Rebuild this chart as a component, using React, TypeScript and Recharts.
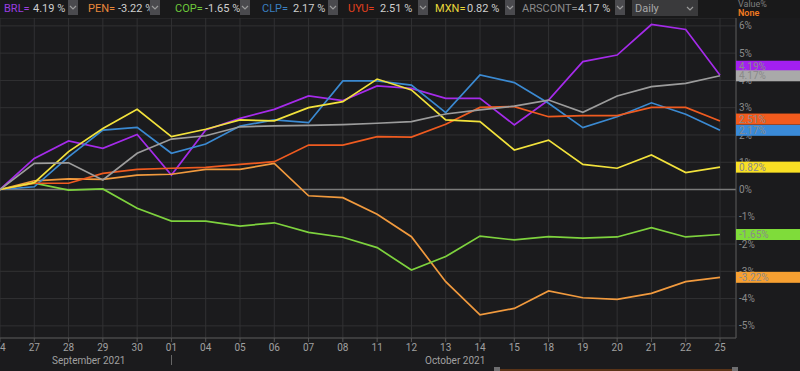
import React from "react";
import { LineChart, Line, XAxis, YAxis, CartesianGrid, ReferenceLine } from "recharts";

const dates = ["24", "27", "28", "29", "30", "01", "04", "05", "06", "07", "08", "11", "12", "13", "14", "15", "18", "19", "20", "21", "22", "25"];
const brl = [0, 1.14, 1.78, 1.51, 2.02, 0.53, 2.18, 2.61, 2.94, 3.43, 3.26, 3.8, 3.71, 3.34, 3.34, 2.37, 3.28, 4.69, 4.93, 6.05, 5.87, 4.19];
const pen = [0, 0.32, 0.39, 0.37, 0.53, 0.56, 0.74, 0.74, 0.96, -0.23, -0.3, -0.91, -1.73, -3.38, -4.6, -4.36, -3.72, -3.97, -4.03, -3.81, -3.38, -3.22];
const cop = [0, 0.23, -0.02, 0.02, -0.69, -1.16, -1.16, -1.34, -1.22, -1.57, -1.75, -2.13, -2.95, -2.46, -1.71, -1.85, -1.73, -1.78, -1.74, -1.4, -1.74, -1.65];
const clp = [0, 0.1, 1.2, 2.18, 2.28, 1.33, 1.67, 2.33, 2.55, 2.45, 3.98, 3.98, 3.83, 2.82, 4.2, 3.92, 3.16, 2.27, 2.67, 3.18, 2.76, 2.17];
const uyu = [0, 0.23, 0.23, 0.59, 0.74, 0.78, 0.81, 0.92, 1.02, 1.63, 1.63, 1.94, 1.92, 2.39, 3.01, 3.04, 2.67, 2.71, 2.71, 3.01, 3.01, 2.51];
const mxn = [0, 0.25, 1.39, 2.24, 2.94, 1.94, 2.21, 2.55, 2.52, 3.0, 3.22, 4.05, 3.65, 2.55, 2.49, 1.45, 1.81, 0.92, 0.78, 1.27, 0.62, 0.82];
const arscont = [0, 0.96, 0.98, 0.35, 1.33, 1.85, 1.97, 2.3, 2.33, 2.35, 2.38, 2.43, 2.49, 2.77, 2.92, 3.06, 3.28, 2.83, 3.43, 3.77, 3.89, 4.17];

const seriesKeys = ["BRL", "PEN", "COP", "CLP", "UYU", "MXN", "ARSCONT"];
const lastValues = ["4.19", "-3.22", "-1.65", "2.17", "2.51", "0.82", "4.17"];
const yTicks = [-5, -4, -3, -2, -1, 0, 1, 2, 3, 4, 5, 6];
const monthLabels = ["September 2021", "October 2021"];
const intervalLabel = "Daily";
const valueHeader = "Value%";
const noneLabel = "None";

const seriesValues = [brl, pen, cop, clp, uyu, mxn, arscont];
const data = dates.map((d, i) => {
  const row: any = { date: d };
  seriesKeys.forEach((k, j) => (row[k] = seriesValues[j][i]));
  return row;
});

// styles
const lineColors = ["#a52bea", "#f19a3e", "#7ed23e", "#3b8ad2", "#ef5b20", "#f2e23c", "#9c9c9c"];
const boxColors = ["#a31ff0", "#f7a031", "#7fdc3a", "#3a8ad8", "#f25b1d", "#f9e024", "#a9a9a9"];
const nameColors = ["#9a3de0", "#e8873a", "#6dc83a", "#3a7fc0", "#e0401e", "#e8d83a", "#8a8a8a"];
const headerPos = [
  [4, 33, 68],
  [88, 118, 150],
  [175, 205, 240],
  [262, 293, 328],
  [348, 380, 418],
  [435, 467, 505],
  [522, 578, 615],
];
const labelShift = [-9, 0, 0, 0, -2, 0, 0];
const BG = "#1b1b1d";
const FONT = "Roboto, 'Open Sans', sans-serif";
const Y_DOMAIN: [number, number] = [-5.445, 6.289];

const Chevron = ({ x, y }: { x: number; y: number }) => (
  <svg width={8} height={6} style={{ position: "absolute", left: x, top: y }}>
    <polyline points="1,1 4,4 7,1" fill="none" stroke="#9a9a9a" strokeWidth={1.2} />
  </svg>
);

const makeEndLabel = (idx: number) => (props: any) => {
  const { x, y, index } = props;
  if (index !== dates.length - 1) return null;
  const yy = y + labelShift[idx];
  return (
    <g>
      <rect x={x + 16} y={yy - 5.5} width={70} height={11} fill={boxColors[idx]} />
      <text x={x + 19} y={yy} dy="0.36em" fontSize={10} fill="#8a8a8a" fontFamily={FONT}>
        {lastValues[idx]}%
      </text>
    </g>
  );
};

export default function App() {
  return (
    <div style={{ position: "absolute", left: 0, top: 0, width: 800, height: 371, background: BG, overflow: "hidden", fontFamily: FONT }}>
      {/* header */}
      <div style={{ position: "absolute", left: 0, top: 0, width: 800, height: 18, background: "#19191a" }}>
        {seriesKeys.map((k, i) => (
          <React.Fragment key={k}>
            <div style={{ position: "absolute", left: headerPos[i][0], top: 2, fontSize: 11, color: nameColors[i], lineHeight: "13px" }}>{k}=</div>
            <div style={{ position: "absolute", left: headerPos[i][1], top: 2, fontSize: 11, color: "#cfcfcf", lineHeight: "13px" }}>{lastValues[i]} %</div>
            <div style={{ position: "absolute", left: headerPos[i][2], top: 0, width: 10, height: 15, background: "#4a4a4e" }} />
            <Chevron x={headerPos[i][2] + 1} y={5} />
          </React.Fragment>
        ))}
        <div style={{ position: "absolute", left: 632, top: 0, width: 66, height: 16, background: "#3a3a3c" }} />
        <div style={{ position: "absolute", left: 635, top: 2, fontSize: 11, color: "#a8a8a8", lineHeight: "13px" }}>{intervalLabel}</div>
        <Chevron x={686} y={6} />
        <div style={{ position: "absolute", left: 738, top: -1, fontSize: 9, color: "#7e7e7e", lineHeight: "10px" }}>{valueHeader}</div>
        <div style={{ position: "absolute", left: 738, top: 8, fontSize: 9, color: "#f07a20", lineHeight: "10px", fontWeight: 600 }}>{noneLabel}</div>
      </div>

      <div style={{ position: "absolute", left: 0, top: 18 }}>
        <LineChart width={800} height={353} data={data} margin={{ top: 0, right: 0, left: 0, bottom: 0 }}>
          <CartesianGrid stroke="#313133" strokeWidth={1} />
          <XAxis
            dataKey="date"
            interval={0}
            height={33}
            padding={{ left: 0, right: 16 }}
            axisLine={{ stroke: "#555" }}
            tickLine={{ stroke: "#555" }}
            tickSize={4}
            tickMargin={2}
            tick={{ fill: "#a0a0a0", fontSize: 10, fontFamily: FONT }}
          />
          <YAxis
            orientation="right"
            width={64}
            domain={Y_DOMAIN}
            allowDataOverflow
            ticks={yTicks}
            tickFormatter={(v: number) => `${v}%`}
            axisLine={{ stroke: "#555" }}
            tickLine={false}
            tickSize={0}
            tickMargin={3}
            tick={{ fill: "#8a8a8a", fontSize: 10, fontFamily: FONT }}
          />
          <ReferenceLine y={0} stroke="#7a7a7a" strokeWidth={1.5} />
          {seriesKeys.map((k, i) => (
            <Line
              key={k}
              type="linear"
              dataKey={k}
              stroke={lineColors[i]}
              strokeWidth={1.7}
              dot={false}
              activeDot={false}
              isAnimationActive={false}
            />
          ))}
        </LineChart>
      </div>

      {/* overlay chart: end-value tags drawn above the axis */}
      <div style={{ position: "absolute", left: 0, top: 18 }}>
        <LineChart width={800} height={353} data={data} margin={{ top: 0, right: 0, left: 0, bottom: 0 }}>
          <XAxis dataKey="date" interval={0} height={33} padding={{ left: 0, right: 16 }} axisLine={false} tickLine={false} tick={false} />
          <YAxis orientation="right" width={64} domain={Y_DOMAIN} allowDataOverflow ticks={yTicks} axisLine={false} tickLine={false} tick={false} />
          {seriesKeys.map((k, i) => (
            <Line
              key={k}
              type="linear"
              dataKey={k}
              stroke="none"
              dot={false}
              activeDot={false}
              isAnimationActive={false}
              label={makeEndLabel(i)}
            />
          ))}
        </LineChart>
      </div>

      {/* month labels */}
      <div style={{ position: "absolute", left: 52, top: 355, fontSize: 10, color: "#a0a0a0" }}>{monthLabels[0]}</div>
      <div style={{ position: "absolute", left: 425, top: 355, fontSize: 10, color: "#a0a0a0" }}>{monthLabels[1]}</div>
      <div style={{ position: "absolute", left: 171, top: 355, width: 1, height: 10, background: "#666" }} />

      {/* scroll bar */}
      <div style={{ position: "absolute", left: 500, top: 369, width: 234, height: 2, background: "#5a3418" }} />
      <div style={{ position: "absolute", left: 494, top: 367, width: 6, height: 6, background: "#6e6e70" }} />
      <div style={{ position: "absolute", left: 732, top: 367, width: 6, height: 6, background: "#6e6e70" }} />
    </div>
  );
}
